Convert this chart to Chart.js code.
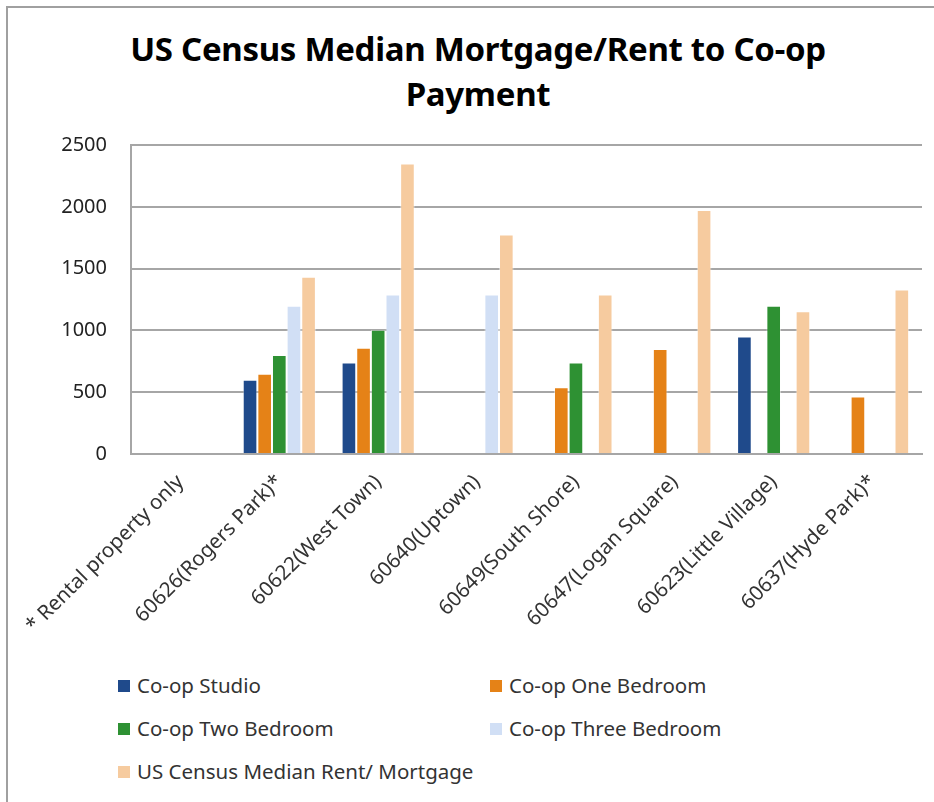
<!DOCTYPE html>
<html>
<head>
<meta charset="utf-8">
<script src="https://cdn.jsdelivr.net/npm/chart.js@4.4.1/dist/chart.umd.min.js"></script>
<style>
  html, body { margin: 0; padding: 0; background: #fff; }
  body { width: 934px; height: 802px; position: relative; overflow: hidden; font-family: 'Noto Sans', sans-serif; }
  #frame { position: absolute; left: 6px; top: 6px; right: -10px; bottom: -10px; border-left: 2px solid #a0a0a0; border-top: 2px solid #a0a0a0; }
  #title { position: absolute; left: 0; width: 956px; top: 26px; text-align: center; font-weight: bold; font-size: 33px; line-height: 45px; color: #000; letter-spacing: -0.3px; }
  #wrap { position: absolute; left: 0; top: 0; width: 934px; height: 660px; }
  #legend { position: absolute; left: 118px; top: 673px; width: 800px; }
  .item { position: absolute; font-size: 20.5px; color: #333; white-space: nowrap; line-height: 24px; }
  .item span.box { display: inline-block; width: 12px; height: 12px; margin-right: 7px; vertical-align: 1px; }
</style>
</head>
<body>
<div id="frame"></div>
<div id="title">US Census Median Mortgage/Rent to Co-op<br>Payment</div>
<div id="wrap"><canvas id="ch_coop"></canvas></div>
<div id="legend"></div>
<script>
/* ── data ─────────────────────────────────────────────────────── */
const categories = [
  '* Rental property only',
  '60626(Rogers Park)*',
  '60622(West Town)',
  '60640(Uptown)',
  '60649(South Shore)',
  '60647(Logan Square)',
  '60623(Little Village)',
  '60637(Hyde Park)*'
];
const yTicks = [0, 500, 1000, 1500, 2000, 2500];

const coopStudio   = [null, 600, 740, null, null, null, 950, null];
const coopOneBed   = [null, 650, 860, null, 540, 850, null, 465];
const coopTwoBed   = [null, 800, 1005, null, 740, null, 1200, null];
const coopThreeBed = [null, 1200, 1290, 1290, null, null, null, null];
const censusMedian = [null, 1435, 2350, 1775, 1290, 1975, 1155, 1330];

const seriesNames  = ['Co-op Studio', 'Co-op One Bedroom', 'Co-op Two Bedroom', 'Co-op Three Bedroom', 'US Census Median Rent/ Mortgage'];
const seriesColors = ['#1f4a8b', '#e58217', '#2e9133', '#d1dff5', '#f6cb9f'];

/* ── chart ────────────────────────────────────────────────────── */
const seriesData = [coopStudio, coopOneBed, coopTwoBed, coopThreeBed, censusMedian];
const GRID = '#a6a6a6';

const chart = new Chart(document.getElementById('ch_coop').getContext('2d'), {
  type: 'bar',
  data: {
    labels: categories,
    datasets: seriesData.map((d, i) => ({
      label: seriesNames[i],
      data: d,
      backgroundColor: seriesColors[i],
      borderColor: 'rgba(255,255,255,0.45)',
      borderWidth: 1,
      categoryPercentage: 0.74,
      barPercentage: 1.0
    }))
  },
  options: {
    responsive: true,
    maintainAspectRatio: false,
    animation: false,
    layout: { padding: { top: 145, right: 12, left: 0, bottom: 0 } },
    plugins: {
      legend: { display: false },
      title: { display: false },
      tooltip: { enabled: false }
    },
    scales: {
      x: {
        grid: { display: false },
        border: { display: true, color: GRID, width: 2 },
        ticks: {
          color: '#333',
          font: { family: 'Noto Sans', size: 20.5 },
          minRotation: 45, maxRotation: 45,
          padding: 8,
          autoSkip: false
        },
        afterFit: s => { s.height = 206; }
      },
      y: {
        min: 0, max: 2500,
        afterBuildTicks: s => { s.ticks = yTicks.map(v => ({ value: v })); },
        grid: { color: GRID, lineWidth: 2, drawTicks: false },
        border: { display: true, color: GRID, width: 2 },
        ticks: {
          color: '#222',
          font: { family: 'Noto Sans', size: 20 },
          padding: 24,
          callback: v => String(v)
        },
        afterFit: s => { s.width = 131; }
      }
    }
  }
});

/* ── legend (two columns, built from the chart datasets) ──────── */
const legendEl = document.getElementById('legend');
chart.data.datasets.forEach((ds, i) => {
  const it = document.createElement('div');
  it.className = 'item';
  it.style.left = (i % 2 ? 372 : 0) + 'px';
  it.style.top  = (Math.floor(i / 2) * 43) + 'px';
  it.innerHTML = `<span class="box" style="background:${ds.backgroundColor}"></span>${ds.label}`;
  legendEl.appendChild(it);
});
</script>
</body>
</html>
